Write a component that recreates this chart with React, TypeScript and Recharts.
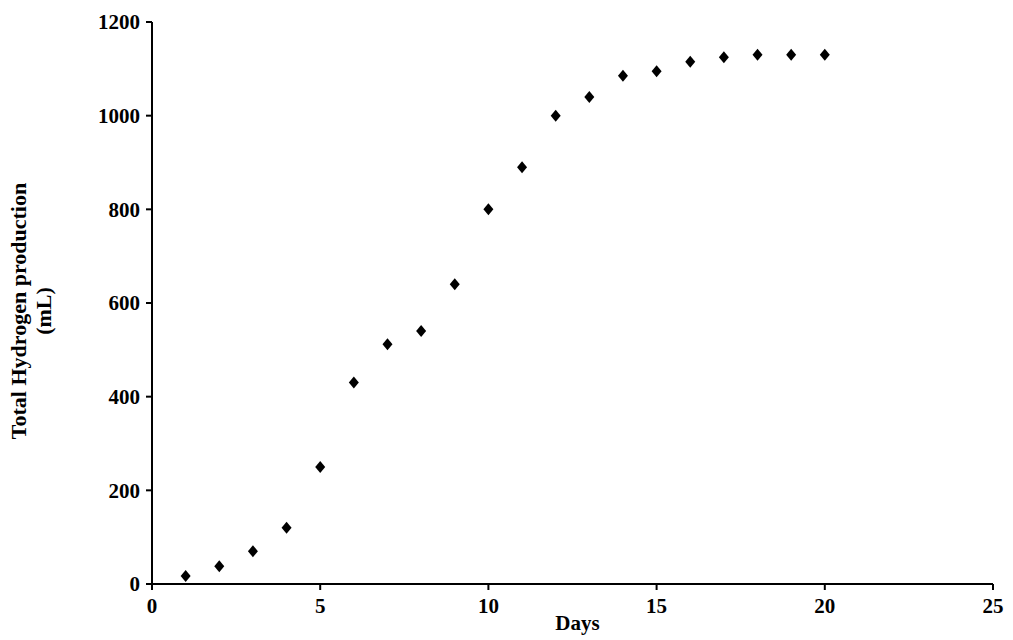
import React from "react";
import { ScatterChart, Scatter, XAxis, YAxis } from "recharts";

const days = [1, 2, 3, 4, 5, 6, 7, 8, 9, 10, 11, 12, 13, 14, 15, 16, 17, 18, 19, 20];
const hydrogen = [17, 38, 70, 120, 250, 430, 512, 540, 640, 800, 890, 1000, 1040, 1085, 1095, 1115, 1125, 1130, 1130, 1130];
const xTicks = [0, 5, 10, 15, 20, 25];
const yTicks = [0, 200, 400, 600, 800, 1000, 1200];

const data = days.map((d, i) => ({ day: d, h: hydrogen[i] }));
const font = "'Liberation Serif', 'Times New Roman', serif";

const Diamond = (p: any) => (
  <polygon
    points={`${p.cx},${p.cy - 6} ${p.cx + 5},${p.cy} ${p.cx},${p.cy + 6} ${p.cx - 5},${p.cy}`}
    fill="#000"
  />
);

export default function App() {
  const tick = { fill: "#000", fontSize: 21, fontWeight: "bold", fontFamily: font };
  return (
    <div style={{ position: "absolute", left: 0, top: 0, background: "#fff" }}>
      <ScatterChart width={1013} height={640} margin={{ top: 22, right: 20, bottom: 0, left: 0 }}>
        <XAxis
          type="number"
          dataKey="day"
          domain={[0, 25]}
          ticks={xTicks}
          tick={tick}
          tickSize={6}
          tickMargin={8}
          height={56}
          axisLine={{ stroke: "#000", strokeWidth: 2 }}
          tickLine={{ stroke: "#000", strokeWidth: 2 }}
          label={{ value: "Days", position: "insideBottom", dx: 5, offset: 10, fill: "#000", fontSize: 21, fontWeight: "bold", fontFamily: font }}
        />
        <YAxis
          type="number"
          dataKey="h"
          domain={[0, 1200]}
          ticks={yTicks}
          tick={tick}
          tickSize={6}
          tickMargin={6}
          width={152}
          axisLine={{ stroke: "#000", strokeWidth: 2 }}
          tickLine={{ stroke: "#000", strokeWidth: 2 }}
          label={(props: any) => {
            const vb = props.viewBox;
            const cy = vb.y + vb.height / 2 + 8;
            return (
              <g fontFamily={font} fontSize={22} fontWeight="bold" fill="#000" textAnchor="middle">
                <text transform={`translate(26,${cy}) rotate(-90)`}>Total Hydrogen production</text>
                <text transform={`translate(51,${cy}) rotate(-90)`}>(mL)</text>
              </g>
            );
          }}
        />
        <Scatter data={data} shape={Diamond} isAnimationActive={false} />
      </ScatterChart>
    </div>
  );
}
